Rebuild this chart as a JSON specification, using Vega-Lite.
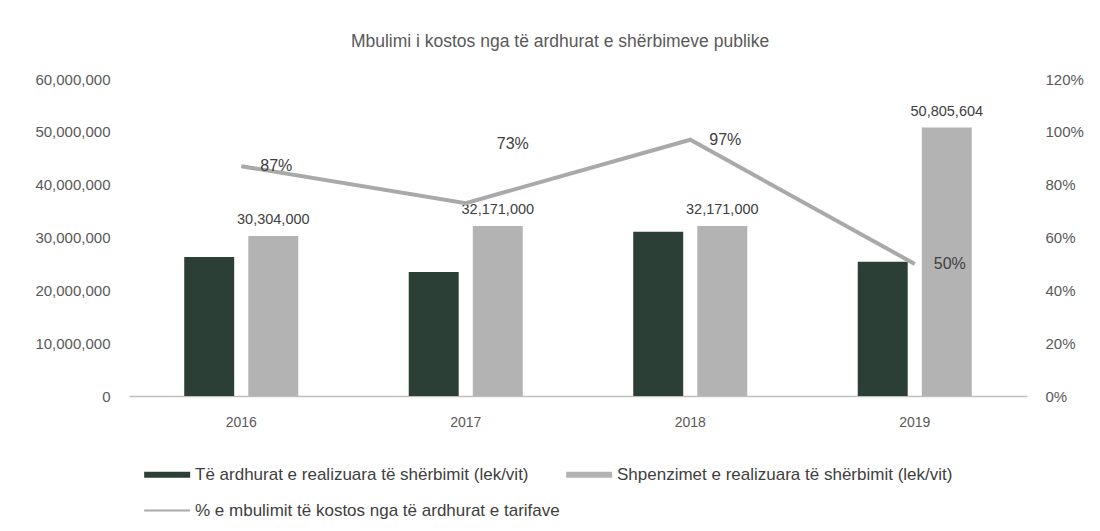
{
  "$schema": "https://vega.github.io/schema/vega-lite/v6.json",
  "autosize": {"type": "none"},
  "width": 898,
  "height": 317,
  "padding": {"left": 129, "top": 79, "right": 73, "bottom": 135},
  "background": "white",
  "title": {
    "text": "Mbulimi i kostos nga të ardhurat e shërbimeve publike",
    "font": "Liberation Sans",
    "fontSize": 17.5,
    "fontWeight": "normal",
    "color": "#595959",
    "anchor": "middle",
    "dx": -18,
    "offset": 22
  },
  "config": {
    "font": "Liberation Sans",
    "view": {"stroke": null},
    "axis": {
      "labelFont": "Liberation Sans",
      "labelFontSize": 15,
      "labelColor": "#595959",
      "ticks": false,
      "grid": false,
      "title": null
    },
    "legend": {
      "title": null,
      "orient": "none",
      "direction": "horizontal",
      "legendX": 45,
      "legendY": 387,
      "columns": 2,
      "columnPadding": 6,
      "rowPadding": 18,
      "symbolSize": 235,
      "symbolOpacity": 1,
      "symbolStrokeWidth": 0,
      "labelFont": "Liberation Sans",
      "labelFontSize": 17,
      "labelColor": "#404040",
      "labelOffset": 4,
      "labelLimit": 500
    }
  },
  "encoding": {
    "x": {
      "field": "year",
      "type": "nominal",
      "scale": {"paddingInner": 0.492, "paddingOuter": 0.246},
      "axis": {
        "labelAngle": 0,
        "labelFontSize": 14,
        "domainColor": "#bfbfbf",
        "domainWidth": 1.5,
        "labelPadding": 19
      }
    }
  },
  "layer": [
    {
      "layer": [
        {
          "data": {
            "values": [
              {"year": "2016", "series": "Të ardhurat e realizuara të shërbimit (lek/vit)", "value": 26300000},
              {"year": "2016", "series": "Shpenzimet e realizuara të shërbimit (lek/vit)", "value": 30304000},
              {"year": "2017", "series": "Të ardhurat e realizuara të shërbimit (lek/vit)", "value": 23450000},
              {"year": "2017", "series": "Shpenzimet e realizuara të shërbimit (lek/vit)", "value": 32171000},
              {"year": "2018", "series": "Të ardhurat e realizuara të shërbimit (lek/vit)", "value": 31100000},
              {"year": "2018", "series": "Shpenzimet e realizuara të shërbimit (lek/vit)", "value": 32171000},
              {"year": "2019", "series": "Të ardhurat e realizuara të shërbimit (lek/vit)", "value": 25400000},
              {"year": "2019", "series": "Shpenzimet e realizuara të shërbimit (lek/vit)", "value": 50805604}
            ]
          },
          "layer": [
            {
              "mark": {"type": "bar"},
              "encoding": {
                "xOffset": {
                  "field": "series",
                  "type": "nominal",
                  "scale": {
                    "domain": ["Të ardhurat e realizuara të shërbimit (lek/vit)", "Shpenzimet e realizuara të shërbimit (lek/vit)"],
                    "paddingInner": 0.22,
                    "paddingOuter": 0
                  }
                },
                "y": {
                  "field": "value",
                  "type": "quantitative",
                  "scale": {"domain": [0, 60000000]},
                  "axis": {
                    "orient": "left",
                    "values": [0, 10000000, 20000000, 30000000, 40000000, 50000000, 60000000],
                    "format": ",d",
                    "domain": false,
                    "labelPadding": 19
                  }
                },
                "color": {
                  "field": "series",
                  "type": "nominal",
                  "scale": {
                    "domain": ["Të ardhurat e realizuara të shërbimit (lek/vit)", "Shpenzimet e realizuara të shërbimit (lek/vit)", "% e mbulimit të kostos nga të ardhurat e tarifave"],
                    "range": ["#2c3f37", "#b3b3b3", "#a9a9a9"]
                  }
                }
              }
            },
            {
              "transform": [{"filter": "datum.series === 'Shpenzimet e realizuara të shërbimit (lek/vit)'"}],
              "mark": {"type": "text", "baseline": "bottom", "dy": -9, "fontSize": 14.5, "color": "#404040"},
              "encoding": {
                "xOffset": {"field": "series", "type": "nominal"},
                "y": {"field": "value", "type": "quantitative"},
                "text": {"field": "value", "type": "quantitative", "format": ",d"}
              }
            }
          ]
        },
        {
          "data": {
            "values": [
              {"year": "2016", "series": "Të ardhurat e realizuara të shërbimit (lek/vit)", "value": 0},
              {"year": "2016", "series": "Shpenzimet e realizuara të shërbimit (lek/vit)", "value": 0},
              {"year": "2016", "series": "% e mbulimit të kostos nga të ardhurat e tarifave", "value": 0}
            ]
          },
          "mark": {"type": "point", "filled": true, "opacity": 0},
          "encoding": {
            "y": {"field": "value", "type": "quantitative"},
            "color": {"field": "series", "type": "nominal"},
            "shape": {
              "field": "series",
              "type": "nominal",
              "scale": {
                "domain": ["Të ardhurat e realizuara të shërbimit (lek/vit)", "Shpenzimet e realizuara të shërbimit (lek/vit)", "% e mbulimit të kostos nga të ardhurat e tarifave"],
                "range": ["M-5,-0.4H1V0.4H-5Z", "M-5,-0.4H1V0.4H-5Z", "M-5,-0.14H1V0.14H-5Z"]
              }
            }
          }
        }
      ]
    },
    {
      "data": {
        "values": [
          {"year": "2016", "pct": 0.87},
          {"year": "2017", "pct": 0.73},
          {"year": "2018", "pct": 0.97},
          {"year": "2019", "pct": 0.50}
        ]
      },
      "encoding": {
        "y": {
          "field": "pct",
          "type": "quantitative",
          "scale": {"domain": [0, 1.2]},
          "axis": {
            "orient": "right",
            "values": [0, 0.2, 0.4, 0.6, 0.8, 1.0, 1.2],
            "format": ".0%",
            "domain": false,
            "labelPadding": 18
          }
        }
      },
      "layer": [
        {
          "mark": {"type": "line", "color": "#a9a9a9", "strokeWidth": 4}
        },
        {
          "transform": [{"filter": "datum.year !== '2017'"}],
          "mark": {"type": "text", "align": "left", "baseline": "middle", "dx": 19, "fontSize": 16, "color": "#404040"},
          "encoding": {"text": {"field": "pct", "type": "quantitative", "format": ".0%"}}
        },
        {
          "transform": [{"filter": "datum.year === '2017'"}],
          "mark": {"type": "text", "align": "left", "baseline": "middle", "dx": 31, "dy": -59, "fontSize": 16, "color": "#404040"},
          "encoding": {"text": {"field": "pct", "type": "quantitative", "format": ".0%"}}
        }
      ]
    }
  ],
  "resolve": {"scale": {"y": "independent"}}
}
